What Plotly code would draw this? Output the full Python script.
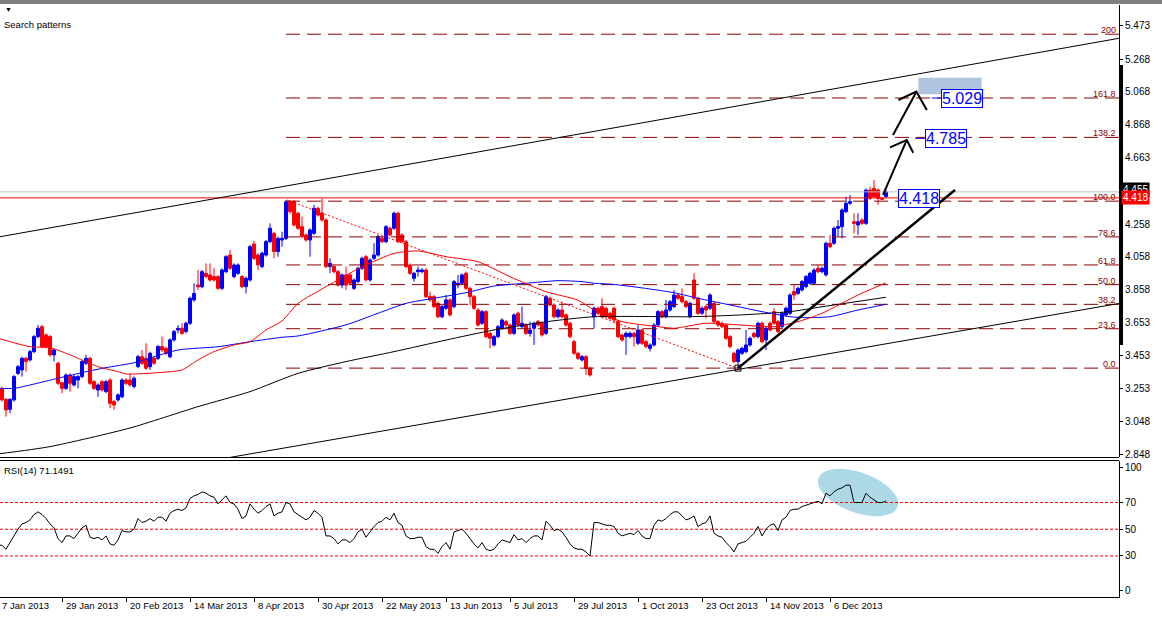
import math
import plotly.graph_objects as go

# ---------------- data ----------------
bar_index = list(range(223))

opens = [
    3.270, 3.251, 3.184, 3.123, 3.180, 3.343, 3.364, 3.435, 3.425, 3.476,
    3.568, 3.629, 3.578, 3.568, 3.456, 3.405, 3.286, 3.251, 3.333, 3.272,
    3.302, 3.323, 3.405, 3.435, 3.292, 3.241, 3.292, 3.231, 3.302, 3.170,
    3.180, 3.200, 3.302, 3.302, 3.262, 3.384, 3.445, 3.435, 3.384, 3.435,
    3.435, 3.507, 3.496, 3.445, 3.548, 3.609, 3.619, 3.599, 3.650, 3.793,
    3.884, 3.874, 3.956, 3.946, 3.936, 3.936, 3.864, 3.966, 4.068, 3.936,
    3.956, 3.936, 3.874, 3.915, 4.135, 4.068, 3.997, 4.068, 4.150, 4.201,
    4.089, 4.160, 4.170, 4.395, 4.395, 4.324, 4.242, 4.191, 4.160, 4.201,
    4.354, 4.324, 4.283, 3.997, 3.997, 3.966, 3.884, 3.946, 3.946, 3.864,
    3.905, 3.987, 4.058, 3.915, 4.048, 4.068, 4.170, 4.150, 4.232, 4.232,
    4.324, 4.191, 4.150, 4.007, 3.925, 3.966, 3.966, 3.976, 3.813, 3.813,
    3.772, 3.690, 3.742, 3.793, 3.752, 3.884, 3.895, 3.956, 3.864, 3.813,
    3.731, 3.650, 3.721, 3.588, 3.517, 3.568, 3.619, 3.660, 3.639, 3.588,
    3.711, 3.629, 3.639, 3.588, 3.619, 3.660, 3.650, 3.588, 3.803, 3.762,
    3.690, 3.731, 3.701, 3.650, 3.537, 3.466, 3.425, 3.445, 3.374, 3.690,
    3.742, 3.752, 3.742, 3.711, 3.742, 3.660, 3.578, 3.568, 3.568, 3.588,
    3.527, 3.609, 3.537, 3.496, 3.517, 3.639, 3.721, 3.690, 3.731, 3.752,
    3.823, 3.813, 3.782, 3.690, 3.915, 3.803, 3.711, 3.752, 3.742, 3.772,
    3.660, 3.650, 3.639, 3.568, 3.466, 3.415, 3.466, 3.476, 3.517, 3.588,
    3.568, 3.650, 3.548, 3.650, 3.721, 3.660, 3.629, 3.701, 3.711, 3.844,
    3.833, 3.854, 3.874, 3.895, 3.895, 3.987, 3.966, 3.946, 4.140, 4.140,
    4.232, 4.242, 4.334, 4.385, 4.272, 4.252, 4.283, 4.262, 4.466, 4.476,
    4.466, 4.415, 4.426,
]
highs = [
    3.290, 3.262, 3.190, 3.190, 3.333, 3.394, 3.445, 3.445, 3.486, 3.578,
    3.639, 3.640, 3.588, 3.578, 3.496, 3.415, 3.292, 3.343, 3.343, 3.333,
    3.333, 3.425, 3.456, 3.445, 3.302, 3.282, 3.302, 3.302, 3.313, 3.180,
    3.221, 3.313, 3.313, 3.343, 3.323, 3.456, 3.486, 3.527, 3.476, 3.445,
    3.517, 3.568, 3.507, 3.558, 3.609, 3.639, 3.650, 3.660, 3.813, 3.895,
    3.976, 3.976, 4.017, 4.017, 3.987, 3.946, 3.987, 4.068, 4.099, 4.017,
    4.017, 3.946, 3.936, 4.130, 4.155, 4.079, 4.089, 4.160, 4.262, 4.211,
    4.181, 4.211, 4.405, 4.405, 4.405, 4.334, 4.303, 4.201, 4.232, 4.375,
    4.364, 4.415, 4.293, 4.048, 4.007, 3.976, 3.956, 3.997, 3.956, 3.925,
    3.997, 4.058, 4.068, 4.048, 4.140, 4.191, 4.181, 4.252, 4.242, 4.334,
    4.334, 4.201, 4.160, 4.017, 3.966, 3.997, 3.987, 3.987, 3.844, 3.823,
    3.782, 3.762, 3.823, 3.803, 3.915, 3.946, 3.956, 3.966, 3.874, 3.823,
    3.742, 3.731, 3.731, 3.599, 3.578, 3.639, 3.680, 3.670, 3.650, 3.711,
    3.721, 3.752, 3.650, 3.660, 3.660, 3.670, 3.660, 3.823, 3.813, 3.772,
    3.742, 3.782, 3.711, 3.660, 3.548, 3.476, 3.456, 3.456, 3.384, 3.752,
    3.752, 3.803, 3.752, 3.721, 3.752, 3.670, 3.588, 3.599, 3.599, 3.599,
    3.639, 3.619, 3.548, 3.527, 3.650, 3.731, 3.731, 3.793, 3.793, 3.854,
    3.833, 3.864, 3.793, 3.782, 3.956, 3.813, 3.752, 3.762, 3.833, 3.782,
    3.670, 3.660, 3.650, 3.578, 3.476, 3.496, 3.507, 3.609, 3.568, 3.599,
    3.660, 3.660, 3.629, 3.660, 3.742, 3.670, 3.721, 3.752, 3.833, 3.884,
    3.874, 3.915, 3.946, 3.966, 3.987, 4.007, 3.997, 4.150, 4.191, 4.242,
    4.283, 4.354, 4.426, 4.436, 4.324, 4.324, 4.293, 4.476, 4.487, 4.528,
    4.476, 4.420, 4.466,
]
lows = [
    3.240, 3.170, 3.078, 3.098, 3.170, 3.333, 3.323, 3.354, 3.415, 3.466,
    3.558, 3.497, 3.496, 3.445, 3.415, 3.272, 3.221, 3.241, 3.231, 3.262,
    3.251, 3.313, 3.394, 3.272, 3.241, 3.200, 3.231, 3.221, 3.129, 3.119,
    3.170, 3.190, 3.272, 3.262, 3.251, 3.374, 3.394, 3.364, 3.364, 3.394,
    3.425, 3.476, 3.456, 3.435, 3.537, 3.588, 3.578, 3.588, 3.639, 3.782,
    3.854, 3.864, 3.925, 3.905, 3.905, 3.854, 3.854, 3.956, 3.976, 3.925,
    3.946, 3.864, 3.833, 3.905, 4.038, 3.976, 3.987, 4.058, 4.140, 4.048,
    4.058, 4.119, 4.160, 4.320, 4.242, 4.221, 4.170, 4.150, 4.058, 4.191,
    4.303, 4.272, 3.987, 3.956, 3.956, 3.874, 3.864, 3.854, 3.884, 3.854,
    3.895, 3.976, 3.905, 3.905, 4.038, 4.058, 4.140, 4.140, 4.181, 4.221,
    4.140, 4.140, 3.987, 3.946, 3.905, 3.936, 3.956, 3.803, 3.782, 3.742,
    3.680, 3.680, 3.731, 3.690, 3.742, 3.864, 3.884, 3.854, 3.762, 3.731,
    3.629, 3.639, 3.558, 3.496, 3.507, 3.558, 3.609, 3.629, 3.578, 3.578,
    3.629, 3.619, 3.578, 3.568, 3.517, 3.629, 3.568, 3.578, 3.752, 3.680,
    3.680, 3.680, 3.629, 3.558, 3.456, 3.425, 3.415, 3.333, 3.323, 3.619,
    3.701, 3.680, 3.680, 3.670, 3.650, 3.558, 3.537, 3.456, 3.558, 3.507,
    3.517, 3.517, 3.496, 3.476, 3.507, 3.629, 3.680, 3.680, 3.721, 3.742,
    3.793, 3.772, 3.742, 3.680, 3.793, 3.701, 3.701, 3.680, 3.731, 3.650,
    3.629, 3.619, 3.548, 3.496, 3.405, 3.374, 3.456, 3.466, 3.507, 3.558,
    3.558, 3.527, 3.486, 3.599, 3.639, 3.588, 3.619, 3.690, 3.701, 3.793,
    3.823, 3.844, 3.864, 3.884, 3.884, 3.956, 3.956, 3.936, 4.109, 4.130,
    4.181, 4.170, 4.324, 4.375, 4.201, 4.191, 4.252, 4.252, 4.405, 4.415,
    4.375, 4.405, 4.420,
]
closes = [
    3.251, 3.180, 3.119, 3.184, 3.323, 3.384, 3.435, 3.415, 3.476, 3.568,
    3.619, 3.507, 3.507, 3.456, 3.486, 3.282, 3.251, 3.333, 3.282, 3.323,
    3.323, 3.415, 3.435, 3.282, 3.251, 3.272, 3.241, 3.292, 3.159, 3.149,
    3.211, 3.302, 3.282, 3.272, 3.313, 3.445, 3.405, 3.374, 3.466, 3.405,
    3.507, 3.486, 3.466, 3.548, 3.599, 3.619, 3.588, 3.650, 3.803, 3.833,
    3.874, 3.966, 3.936, 3.915, 3.915, 3.864, 3.976, 4.058, 3.987, 4.007,
    4.007, 3.874, 3.925, 4.119, 4.048, 4.007, 4.079, 4.150, 4.232, 4.089,
    4.170, 4.170, 4.395, 4.334, 4.252, 4.232, 4.181, 4.160, 4.221, 4.354,
    4.313, 4.283, 3.997, 4.017, 3.966, 3.884, 3.946, 3.884, 3.895, 3.915,
    3.987, 4.048, 3.915, 4.038, 4.068, 4.181, 4.150, 4.242, 4.191, 4.324,
    4.150, 4.150, 3.997, 3.956, 3.956, 3.976, 3.976, 3.813, 3.793, 3.752,
    3.690, 3.752, 3.793, 3.701, 3.905, 3.895, 3.946, 3.864, 3.813, 3.742,
    3.639, 3.721, 3.568, 3.558, 3.568, 3.629, 3.670, 3.639, 3.588, 3.701,
    3.639, 3.650, 3.588, 3.609, 3.650, 3.639, 3.578, 3.813, 3.762, 3.690,
    3.731, 3.690, 3.639, 3.568, 3.466, 3.435, 3.445, 3.374, 3.333, 3.742,
    3.711, 3.690, 3.690, 3.680, 3.670, 3.568, 3.548, 3.588, 3.588, 3.568,
    3.609, 3.527, 3.507, 3.517, 3.639, 3.721, 3.690, 3.731, 3.782, 3.823,
    3.803, 3.782, 3.752, 3.772, 3.803, 3.711, 3.742, 3.731, 3.823, 3.660,
    3.639, 3.629, 3.558, 3.507, 3.415, 3.486, 3.496, 3.517, 3.558, 3.568,
    3.650, 3.537, 3.619, 3.609, 3.650, 3.599, 3.711, 3.742, 3.823, 3.823,
    3.864, 3.905, 3.936, 3.956, 3.976, 3.966, 3.987, 4.140, 4.119, 4.232,
    4.242, 4.344, 4.385, 4.395, 4.262, 4.272, 4.262, 4.466, 4.415, 4.426,
    4.415, 4.410, 4.455,
]
rsi14 = [
    38, 38, 35, 40, 46, 50, 54, 55, 57, 61,
    63, 61, 58, 54, 51, 43, 40, 45, 45, 43,
    47, 51, 53, 44, 43, 44, 42, 45, 39, 38,
    42, 49, 48, 48, 50, 58, 55, 56, 58, 56,
    59, 59, 56, 62, 64, 65, 64, 66, 73, 75,
    76, 78, 77, 75, 74, 69, 72, 75, 70, 69,
    65, 58, 60, 69, 65, 62, 64, 67, 69, 60,
    62, 63, 70, 69, 63, 61, 59, 57, 59, 64,
    62, 59, 45, 45, 43, 39, 42, 42, 40, 43,
    48, 50, 44, 48, 52, 55, 56, 59, 57, 62,
    55, 53, 45, 43, 43, 44, 44, 37, 35, 35,
    32, 37, 40, 35, 48, 49, 50, 47, 43, 39,
    36, 40, 35, 34, 35, 39, 42, 41, 40, 46,
    42, 43, 40, 43, 45, 45, 42, 56, 53, 49,
    50, 48, 44, 39, 36, 35, 35, 33, 30, 55,
    55, 54, 53, 53, 52, 47, 45, 46, 47, 46,
    49, 45, 43, 43, 53, 57, 56, 58, 61, 63,
    63, 60, 57, 58, 60, 52, 54, 55, 60, 47,
    45, 44, 40, 37, 33, 39, 40, 41, 44, 47,
    52, 45, 50, 53, 54, 49, 57, 59, 64, 65,
    65, 67, 68, 69, 70, 71, 69, 77, 75, 78,
    80, 81, 83, 83, 70, 70, 70, 77, 74, 72,
    70, 70, 71.1491,
]
rsi_levels = [70, 50, 30]

red_ma_idx = [0, 8, 13, 17, 21, 25, 30, 32, 41, 46, 50, 54, 59, 63, 67, 71, 75, 82, 91,
              99, 105, 112, 120, 128, 137, 145, 149, 156, 165, 169, 177, 185, 194, 200,
              206, 215, 222]
red_ma_val = [3.558, 3.506, 3.500, 3.466, 3.425, 3.384, 3.353, 3.339, 3.349, 3.364, 3.425,
              3.476, 3.517, 3.537, 3.609, 3.664, 3.772, 3.874, 3.996, 4.078, 4.093, 4.058,
              4.027, 3.935, 3.843, 3.792, 3.731, 3.660, 3.629, 3.619, 3.650, 3.640, 3.629,
              3.660, 3.711, 3.823, 3.898]
blue_ma_idx = [0, 4, 15, 22, 27, 34, 45, 55, 63, 71, 75, 87, 95, 102, 109, 117, 124, 132,
               140, 146, 149, 153, 160, 169, 175, 183, 191, 198, 202, 208, 215, 222]
blue_ma_val = [3.251, 3.251, 3.313, 3.353, 3.378, 3.408, 3.486, 3.506, 3.537, 3.564, 3.572,
               3.640, 3.711, 3.772, 3.803, 3.837, 3.878, 3.895, 3.911, 3.905, 3.895, 3.890,
               3.870, 3.837, 3.803, 3.762, 3.721, 3.690, 3.684, 3.690, 3.731, 3.766]
black_ma_idx = [0, 13, 33, 50, 63, 75, 87, 99, 112, 124, 137, 149, 173, 185, 198, 206, 222]
black_ma_val = [2.849, 2.894, 3.008, 3.139, 3.231, 3.343, 3.415, 3.476, 3.547, 3.609, 3.659,
                3.690, 3.690, 3.700, 3.721, 3.751, 3.809]

x_tick_idx = [0, 16, 32, 48, 64, 80, 96, 112, 128, 144, 160, 176, 192, 208]
x_tick_labels = ["7 Jan 2013", "29 Jan 2013", "20 Feb 2013", "14 Mar 2013", "8 Apr 2013",
                 "30 Apr 2013", "22 May 2013", "13 Jun 2013", "5 Jul 2013", "29 Jul 2013",
                 "1 Oct 2013", "23 Oct 2013", "14 Nov 2013", "6 Dec 2013"]
price_ticks = [5.473, 5.268, 5.068, 4.868, 4.663, 4.458, 4.258, 4.058, 3.858, 3.653,
               3.453, 3.253, 3.048, 2.848]
price_tick_hidden = [4.458]   # covered by the current-price boxes in the reference
rsi_tick_vals = [96.1, 70, 50, 30, 4.0]
rsi_tick_text = ["100", "70", "50", "30", "0"]

fib_low, fib_high = 3.375, 4.398
fib_levels = [0.0, 23.6, 38.2, 50.0, 61.8, 78.6, 100.0, 138.2, 161.8, 200.0]
fib_labels = ["0.0", "23.6", "38.2", "50.0", "61.8", "78.6", "100.0", "138.2", "161.8", "200"]
fib_start_idx = 72

current_price = 4.455
hline_price = 4.418

upper_channel_idx, upper_channel_val = [0.5, 280.25], [4.180, 5.396]
lower_channel_idx, lower_channel_val = [58, 280.25], [2.828, 3.771]
decline_idx, decline_val = [72.25, 184.75], [4.405, 3.376]
trend_idx, trend_val = [185, 239.25], [3.375, 4.466]
pivot_idx, pivot_val = 185, 3.375

arrow1_shaft_idx, arrow1_shaft_val = [221.25, 227.2], [4.436, 4.773]
arrow1_head_idx, arrow1_head_val = [223.0, 227.2, 228.8], [4.728, 4.773, 4.695]
arrow2_shaft_idx, arrow2_shaft_val = [223.75, 229.6], [4.803, 5.069]
arrow2_head_idx, arrow2_head_val = [225.1, 229.6, 232.2], [5.018, 5.069, 4.957]

target_texts = ["4.418", "4.785", "5.029"]
target_idx = [224.9, 231.75, 235.75]
target_vals = [4.416, 4.783, 5.030]
connector_idx = [[229.25, 231.75], [233.4, 235.75]]
connector_vals = [4.783, 5.030]
zone_idx = [230.1, 245.9]
zone_vals = [5.053, 5.154]

ellipse_center_idx, ellipse_center_rsi = 215.0, 77.5

# ---------------- layout geometry ----------------
W, H = 1162, 617
ML, MR, MT, MB = 0, 43, 5, 20
PW, PH = W - ML - MR, H - MT - MB
X_RANGE = [0.5, 0.5 + PW / 4.0]


def ypaper(py):
    return (H - MB - py) / PH


def xpaper_from_idx(i):
    return (i - X_RANGE[0]) / (X_RANGE[1] - X_RANGE[0])


price_dom = [ypaper(457), 1.0]
rsi_dom = [0.0, ypaper(461)]
PRICE_RANGE = [2.8304, 5.6000]
RSI_RANGE = [-0.75, 101.1]

FONT = "Liberation Sans"
FIB_COLOR = "#8b0000"

fig = go.Figure()

# RSI pane
for lv in rsi_levels:
    fig.add_trace(go.Scatter(x=X_RANGE, y=[lv, lv], mode="lines", xaxis="x2", yaxis="y2",
                             line=dict(color="#ff0000", width=1, dash="3px,2px"), hoverinfo="skip"))
fig.add_trace(go.Scatter(x=bar_index, y=rsi14, mode="lines", xaxis="x2", yaxis="y2",
                         line=dict(color="black", width=1), hoverinfo="skip"))

# Fibonacci levels
for lv in fib_levels:
    p = fib_low + lv / 100.0 * (fib_high - fib_low)
    fig.add_trace(go.Scatter(x=[fib_start_idx, X_RANGE[1]], y=[p, p], mode="lines",
                             line=dict(color=FIB_COLOR, width=1, dash="14px,7px"), hoverinfo="skip"))

# horizontal price lines
fig.add_trace(go.Scatter(x=X_RANGE, y=[current_price] * 2, mode="lines",
                         line=dict(color="#c0c0c0", width=1), hoverinfo="skip"))
fig.add_trace(go.Scatter(x=X_RANGE, y=[hline_price] * 2, mode="lines",
                         line=dict(color="#ff0000", width=1), hoverinfo="skip"))

# candles
fig.add_trace(go.Candlestick(
    x=bar_index, open=opens, high=highs, low=lows, close=closes,
    increasing=dict(line=dict(color="#0000ff", width=1), fillcolor="#0000ff"),
    decreasing=dict(line=dict(color="#ff0000", width=1), fillcolor="#ff0000"),
    whiskerwidth=0, hoverinfo="skip"))

# moving averages
for idx, val, col in [(black_ma_idx, black_ma_val, "black"),
                      (blue_ma_idx, blue_ma_val, "#0000ff"),
                      (red_ma_idx, red_ma_val, "#ff0000")]:
    fig.add_trace(go.Scatter(x=idx, y=val, mode="lines",
                             line=dict(color=col, width=1, shape="spline", smoothing=0.6),
                             hoverinfo="skip"))

# channel
for idx, val in [(upper_channel_idx, upper_channel_val), (lower_channel_idx, lower_channel_val)]:
    fig.add_trace(go.Scatter(x=idx, y=val, mode="lines", line=dict(color="black", width=1),
                             hoverinfo="skip"))

# declining highs (dotted)
fig.add_trace(go.Scatter(x=decline_idx, y=decline_val, mode="lines",
                         line=dict(color="#ff0000", width=1, dash="2px,2px"), hoverinfo="skip"))

# thick trend line + pivot
fig.add_trace(go.Scatter(x=trend_idx, y=trend_val, mode="lines",
                         line=dict(color="black", width=2.5), hoverinfo="skip"))
fig.add_trace(go.Scatter(x=[pivot_idx], y=[pivot_val], mode="markers",
                         marker=dict(symbol="square-open", size=6, color="black",
                                     line=dict(width=1, color="black")), hoverinfo="skip"))

# arrows
for idx, val in [(arrow1_shaft_idx, arrow1_shaft_val), (arrow1_head_idx, arrow1_head_val),
                 (arrow2_shaft_idx, arrow2_shaft_val), (arrow2_head_idx, arrow2_head_val)]:
    fig.add_trace(go.Scatter(x=idx, y=val, mode="lines", line=dict(color="black", width=2),
                             hoverinfo="skip"))

# target connectors
for idx, v in zip(connector_idx, connector_vals):
    fig.add_trace(go.Scatter(x=idx, y=[v, v], mode="lines", line=dict(color="#0000ff", width=1),
                             hoverinfo="skip"))

shapes = []
# target zone
shapes.append(dict(type="rect", xref="x", yref="y", x0=zone_idx[0], x1=zone_idx[1],
                   y0=zone_vals[0], y1=zone_vals[1], fillcolor="#b0c4de",
                   line=dict(width=0), layer="below"))
# RSI ellipse
bar_px = PW / (X_RANGE[1] - X_RANGE[0])
rsi_px = PH * (rsi_dom[1] - rsi_dom[0]) / (RSI_RANGE[1] - RSI_RANGE[0])
a_px, b_px, th = 42.0, 20.0, math.radians(20)
pts = []
for k in range(73):
    t = 2 * math.pi * k / 72
    dx = a_px * math.cos(t) * math.cos(th) - b_px * math.sin(t) * math.sin(th)
    dy = a_px * math.cos(t) * math.sin(th) + b_px * math.sin(t) * math.cos(th)
    pts.append((ellipse_center_idx + dx / bar_px, ellipse_center_rsi - dy / rsi_px))
path = "M " + " L ".join(f"{px:.3f},{py:.3f}" for px, py in pts) + " Z"
shapes.append(dict(type="path", xref="x2", yref="y2", path=path, fillcolor="#add8e6",
                   line=dict(width=0), layer="below"))
# window borders / pane separators
for py in (1, 3):
    shapes.append(dict(type="line", xref="paper", yref="paper", x0=0, x1=W / PW,
                       y0=ypaper(py), y1=ypaper(py), line=dict(color="black", width=1)))
for py in (457.5, 460.5):
    shapes.append(dict(type="line", xref="paper", yref="paper", x0=0, x1=1,
                       y0=ypaper(py), y1=ypaper(py), line=dict(color="black", width=1)))
# thick bar on price scale
shapes.append(dict(type="line", xref="paper", yref="paper", x0=1121.0 / PW, x1=1121.0 / PW,
                   y0=ypaper(65), y1=ypaper(345), line=dict(color="black", width=4)))

annotations = []
annotations.append(dict(xref="paper", yref="paper", x=0, y=ypaper(9), xanchor="left",
                        yanchor="middle", xshift=3, text="▼", showarrow=False,
                        font=dict(family=FONT, size=7, color="black")))
annotations.append(dict(xref="paper", yref="paper", x=0, y=ypaper(24), xanchor="left",
                        yanchor="middle", xshift=2, text="Search patterns", showarrow=False,
                        font=dict(family=FONT, size=9.5, color="black")))
annotations.append(dict(xref="paper", yref="paper", x=0, y=ypaper(470), xanchor="left",
                        yanchor="middle", xshift=2, text="RSI(14) 71.1491", showarrow=False,
                        font=dict(family=FONT, size=9.5, color="black")))
for i, lab in zip(x_tick_idx, x_tick_labels):
    annotations.append(dict(xref="paper", yref="paper", x=xpaper_from_idx(i), y=ypaper(605),
                            xanchor="left", yanchor="middle", xshift=2, text=lab,
                            showarrow=False, font=dict(family=FONT, size=9.5, color="black")))
for lv, lab in zip(fib_levels, fib_labels):
    p = fib_low + lv / 100.0 * (fib_high - fib_low)
    annotations.append(dict(xref="paper", yref="y", x=1117.0 / PW, y=p, xanchor="right",
                            yanchor="bottom", yshift=-2, text=lab, showarrow=False, borderpad=0,
                            font=dict(family=FONT, size=9, color=FIB_COLOR)))
for txt, i, v in zip(target_texts, target_idx, target_vals):
    annotations.append(dict(xref="x", yref="y", x=i, y=v, xanchor="left", yanchor="middle",
                            text=txt, showarrow=False, bgcolor="white", bordercolor="#0000ff",
                            borderwidth=1, borderpad=0,
                            font=dict(family=FONT, size=16, color="#0000ff")))
annotations.append(dict(xref="paper", yref="y", x=1, y=current_price, xanchor="left",
                        yanchor="middle", xshift=2, yshift=2, text="4.455", showarrow=False,
                        bgcolor="black", borderpad=1, font=dict(family=FONT, size=10, color="white")))
annotations.append(dict(xref="paper", yref="y", x=1, y=hline_price, xanchor="left",
                        yanchor="middle", xshift=2, text="4.418", showarrow=False,
                        bgcolor="#ff0000", borderpad=1, font=dict(family=FONT, size=10, color="white")))

fig.update_layout(
    width=W, height=H, margin=dict(l=ML, r=MR, t=MT, b=MB),
    paper_bgcolor="white", plot_bgcolor="white", showlegend=False,
    boxgap=0.25, boxgroupgap=0,
    font=dict(family=FONT, size=10, color="black"),
    shapes=shapes, annotations=annotations,
    xaxis=dict(domain=[0, 1], range=X_RANGE, anchor="y", showticklabels=False, ticks="",
               showgrid=False, zeroline=False, rangeslider=dict(visible=False), fixedrange=True),
    xaxis2=dict(domain=[0, 1], range=X_RANGE, anchor="y2", showticklabels=False,
                tickvals=x_tick_idx, ticks="outside", ticklen=4, tickcolor="black",
                showline=True, linecolor="black", linewidth=1, showgrid=False, zeroline=False),
    yaxis=dict(domain=price_dom, range=PRICE_RANGE, side="right", anchor="x",
               tickvals=price_ticks,
               ticktext=["" if v in price_tick_hidden else f"{v:.3f}" for v in price_ticks],
               ticks="outside", ticklen=3, tickcolor="black", showline=True, linecolor="black",
               linewidth=1, showgrid=False, zeroline=False,
               tickfont=dict(family=FONT, size=10, color="black")),
    yaxis2=dict(domain=rsi_dom, range=RSI_RANGE, side="right", anchor="x2",
                tickvals=rsi_tick_vals, ticktext=rsi_tick_text,
                ticks="outside", ticklen=3, tickcolor="black", showline=True, linecolor="black",
                linewidth=1, showgrid=False, zeroline=False,
                tickfont=dict(family=FONT, size=10, color="black")),
)

fig.write_html("out.html")
